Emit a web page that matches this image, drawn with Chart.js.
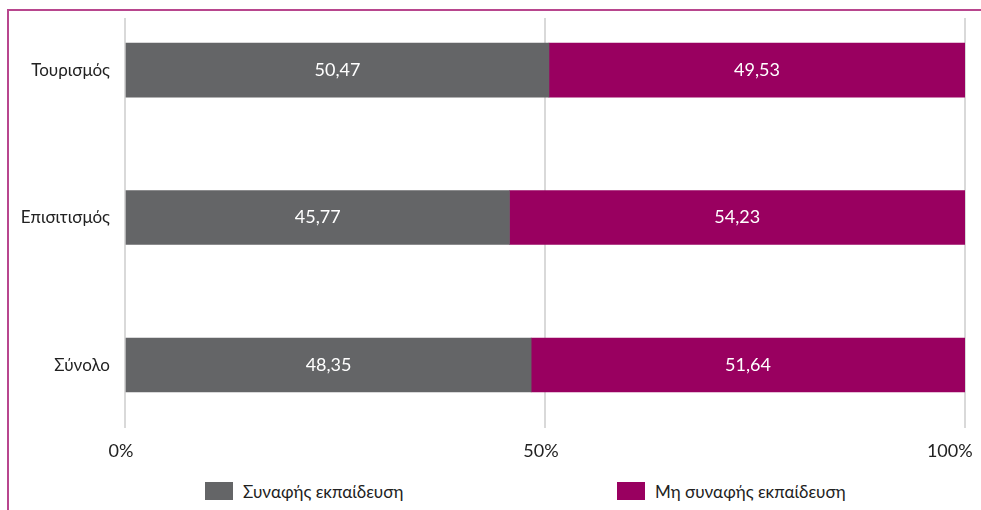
<!DOCTYPE html>
<html>
<head>
<meta charset="utf-8">
<script src="https://cdn.jsdelivr.net/npm/chart.js@4/dist/chart.umd.min.js"></script>
<style>
  body { margin: 0; background: #fff; width: 981px; height: 510px; overflow: hidden; position: relative; }
  .frame { position: absolute; left: 7px; top: 9px; width: 1100px; height: 600px; border-left: 2px solid #b8468e; border-top: 2px solid #b8468e; }
  .wrap { position: absolute; left: 0; top: 0; width: 981px; height: 470px; }
  .legend { position: absolute; top: 482px; left: 0; width: 981px; height: 20px; font: 17px Lato, sans-serif; color: #222; }
  .legend .item { position: absolute; top: 0; display: flex; align-items: center; height: 18px; }
  .legend .box { width: 28px; height: 18px; margin-right: 10px; }
</style>
</head>
<body>
<div class="frame"></div>
<div class="wrap"><canvas id="chart"></canvas></div>
<div class="legend" id="legend"></div>
<script>
const categories = ['Τουρισμός', 'Επισιτισμός', 'Σύνολο'];
const seriesNames = ['Συναφής εκπαίδευση', 'Μη συναφής εκπαίδευση'];
const related = [50.47, 45.77, 48.35];
const unrelated = [49.53, 54.23, 51.64];
const xTickValues = [0, 50, 100];
const colors = ['#646567', '#990060'];

const toPoints = (arr) => arr.map((v, i) => ({ x: v, y: i }));
const fmt = (v) => v.toFixed(2).replace('.', ',');

const valueLabels = {
  id: 'valueLabels',
  afterDatasetsDraw(chart) {
    const ctx = chart.ctx;
    ctx.save();
    ctx.fillStyle = '#fff';
    ctx.font = '18px Lato, sans-serif';
    ctx.textAlign = 'center';
    ctx.textBaseline = 'middle';
    chart.data.datasets.forEach((ds, di) => {
      chart.getDatasetMeta(di).data.forEach((bar, i) => {
        const p = bar.getCenterPoint();
        ctx.fillText(fmt(ds.data[i].x), p.x, p.y);
      });
    });
    ctx.restore();
  }
};

new Chart(document.getElementById('chart'), {
  type: 'bar',
  data: {
    datasets: [
      { label: seriesNames[0], data: toPoints(related), backgroundColor: colors[0] },
      { label: seriesNames[1], data: toPoints(unrelated), backgroundColor: colors[1] }
    ]
  },
  options: {
    indexAxis: 'y',
    responsive: true,
    maintainAspectRatio: false,
    animation: false,
    barThickness: 54,
    layout: { padding: { top: 18, right: 16, bottom: 0, left: 0 } },
    plugins: { legend: { display: false }, tooltip: { enabled: false } },
    scales: {
      x: {
        type: 'linear',
        stacked: true,
        min: 0,
        max: 100,
        afterBuildTicks: (scale) => { scale.ticks = xTickValues.map(v => ({ value: v })); },
        afterFit: (scale) => { scale.height = 42; scale.paddingLeft = 0; scale.paddingRight = 0; },
        ticks: {
          // the last label sits a little inside the right edge, as in the original
          callback: (v) => v === 100 ? v + '%\u2003\u2002' : v + '%',
          color: '#222',
          font: { family: 'Lato, sans-serif', size: 18 },
          padding: 12,
          labelOffset: -4,
          maxRotation: 0
        },
        grid: { color: '#d9d9d9', lineWidth: 2, drawTicks: false },
        border: { display: false }
      },
      y: {
        type: 'linear',
        stacked: true,
        reverse: true,
        offset: false,
        min: -0.353,
        max: 2.427,
        afterFit: (scale) => { scale.width = 125; scale.paddingTop = 0; scale.paddingBottom = 0; },
        ticks: {
          stepSize: 1,
          autoSkip: false,
          callback: (v) => Number.isInteger(v) ? categories[v] : '',
          color: '#222',
          font: { family: 'Lato, sans-serif', size: 17 },
          padding: 15
        },
        grid: { display: false, drawTicks: false },
        border: { display: false }
      }
    }
  },
  plugins: [valueLabels]
});

const legend = document.getElementById('legend');
const legendX = [205, 617];
seriesNames.forEach((name, i) => {
  const item = document.createElement('div');
  item.className = 'item';
  item.style.left = legendX[i] + 'px';
  item.innerHTML = '<span class="box" style="background:' + colors[i] + '"></span><span>' + name + '</span>';
  legend.appendChild(item);
});
</script>
</body>
</html>
